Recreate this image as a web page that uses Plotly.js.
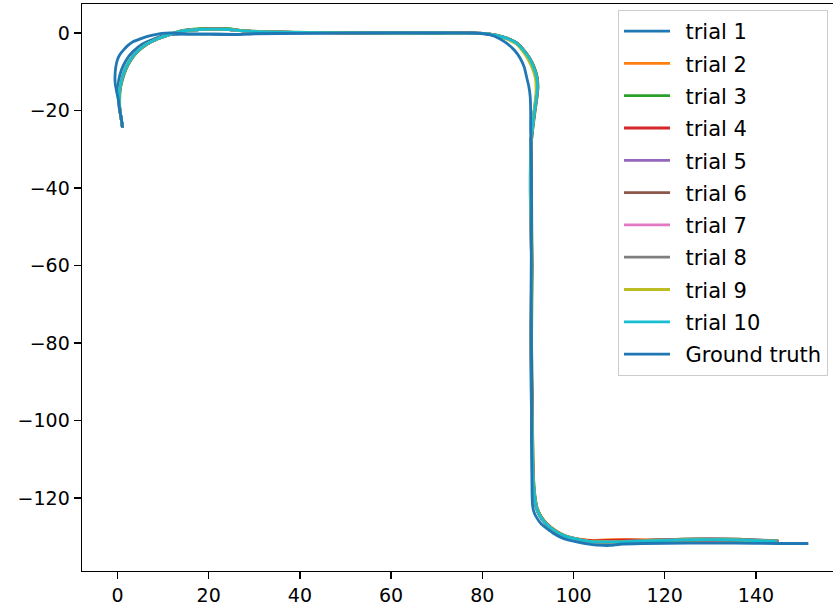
<!DOCTYPE html>
<html>
<head>
<meta charset="utf-8">
<script src="https://cdn.plot.ly/plotly-3.0.1.min.js"></script>
<style>html,body{margin:0;padding:0;background:#fff;}#chart{width:833px;height:607px;}</style>
</head>
<body>
<div id="chart"></div>
<script>
// Legend labels
const seriesNames = ["trial 1","trial 2","trial 3","trial 4","trial 5","trial 6","trial 7","trial 8","trial 9","trial 10","Ground truth"];
const seriesColors = ["#1f77b4","#ff7f0e","#2ca02c","#d62728","#9467bd","#8c564b","#e377c2","#7f7f7f","#bcbd22","#17becf","#1f77b4"];

// Trajectory values
const trial1X = [1.1,0.8,0.4,0.2,0.1,0.3,0.9,1.9,3.4,5.4, 7.8,10.4,14.4,18,21,26.1,28,32,45,60, 72,77,80.2,83.1,85.5,87.6,89.1,90.4,91.3,91.9, 92.0,91.8,91.2,90.7,90.5,90.8,90.6,90.8,91.0,91.3, 91.8,92.7,93.9,96.1,98,99.9,102,104,107,112, 118,124,130,136,141,144.2];
const trial1Y = [-24.4,-22,-19.5,-17,-14.5,-12,-9.4,-7.0,-4.8,-2.9, -1.6,-0.6,-0.3,-0.3,-0.3,-0.35,-0.2,-0.1,0,0, 0,-0.05,-0.1,-0.6,-1.4,-2.6,-4.4,-6.5,-8.7,-11.3, -13.9,-16.5,-21.6,-27.6,-40,-60,-80,-100,-114,-119, -122.6,-124.9,-126.7,-128.8,-129.9,-130.5,-131,-131.3,-131.4,-131.3, -131.1,-130.9,-130.8,-130.9,-131.1,-131.2];

const trial2X = [1.1,0.8,0.5,0.4,0.6,1.0,1.7,2.7,4.2,6.3, 8.7,11.3,14,18,21,24.5,27,32,45,60, 72,77,80.3,83.1,85.5,87.6,89.1,90.4,91.3,92.0, 92.2,92.0,91.4,90.8,90.7,90.9,90.8,91.0,91.2,91.5, 92.0,92.9,94.1,96.4,98.3,100.1,102.1,104.1,107,112, 118,124,130,136,141,144.8];
const trial2Y = [-24.4,-22,-19.5,-17,-14.5,-12,-9.6,-7.3,-5,-3, -1.6,-0.5,0.5,1.0,1.1,1.0,0.7,0.3,0.1,0, 0,-0.05,-0.1,-0.6,-1.4,-2.6,-4.4,-6.5,-8.7,-11.3, -13.9,-16.5,-21.6,-27.6,-40,-60,-80,-100,-114,-119, -122.4,-124.7,-126.5,-128.6,-129.7,-130.3,-130.7,-130.9,-130.8,-130.7, -130.8,-130.8,-130.7,-130.8,-131.0,-131.1];

const trial3X = [1.1,0.8,0.5,0.5,0.6,1.1,1.8,2.8,4.3,6.4, 8.8,11.4,14,18,21,24.5,27,32,45,60, 72,77,80.2,83,85.4,87.5,89,90.3,91.3,92.0, 92.2,92.0,91.4,90.8,90.8,90.9,90.8,91.0,91.2,91.5, 92.0,92.9,94.1,96.4,98.3,100.1,102.1,104.1,107,112, 118,124,130,136,141,144.4];
const trial3Y = [-24.4,-22,-19.5,-17,-14.5,-12,-9.6,-7.3,-5,-3, -1.5,-0.4,0.6,1.1,1.2,1.1,0.7,0.4,0.1,0, 0,-0.05,-0.1,-0.5,-1.3,-2.5,-4.3,-6.4,-8.6,-11.2, -13.8,-16.5,-21.6,-27.6,-40,-60,-80,-100,-114,-119, -122.5,-124.8,-126.6,-128.7,-129.8,-130.4,-130.9,-131.2,-131.3,-131.2, -131.0,-130.8,-130.7,-130.8,-131.0,-131.1];

const trial4X = [1.1,0.8,0.5,0.4,0.5,0.9,1.6,2.6,4.1,6.2, 8.6,11.2,14,18,21,24.5,27,32,45,60, 72,77,80.2,83,85.4,87.5,89,90.3,91.2,91.9, 92.1,91.9,91.3,90.7,90.6,90.8,90.7,90.9,91.1,91.4, 91.9,92.8,94,96.3,98.2,100,102,104,107,112, 118,124,130,136,141,145.0];
const trial4Y = [-24.4,-22,-19.5,-17,-14.5,-12,-9.6,-7.3,-5,-3, -1.6,-0.5,0.5,0.9,1.0,0.9,0.6,0.3,0.1,0, 0,-0.05,-0.1,-0.6,-1.4,-2.6,-4.4,-6.5,-8.7,-11.3, -13.9,-16.5,-21.6,-27.6,-40,-60,-80,-100,-114,-119, -122.5,-124.8,-126.6,-128.7,-129.8,-130.4,-130.8,-131.0,-130.9,-130.8, -130.9,-130.9,-130.8,-130.9,-131.0,-131.1];

const trial5X = [1.1,0.8,0.5,0.4,0.5,1.0,1.7,2.7,4.2,6.3, 8.7,11.3,14,18,21,24.5,27,32,45,60, 72,77,80.1,82.9,85.3,87.4,88.9,90.2,91.1,91.8, 92.0,91.8,91.2,90.7,90.7,90.8,90.8,90.9,91.1,91.4, 91.9,92.8,94,96.3,98.2,100,102,104,107,112, 118,124,130,136,141,144.7];
const trial5Y = [-24.4,-22,-19.5,-17,-14.5,-12,-9.6,-7.3,-5,-3, -1.6,-0.5,0.5,0.9,1.0,0.9,0.6,0.3,0.1,0, 0,-0.05,-0.1,-0.6,-1.4,-2.6,-4.4,-6.5,-8.7,-11.3, -13.9,-16.5,-21.6,-27.6,-40,-60,-80,-100,-114,-119, -122.5,-124.8,-126.6,-128.7,-129.8,-130.4,-130.9,-131.2,-131.3,-131.1, -130.9,-130.7,-130.6,-130.7,-130.9,-131.1];

const trial6X = [1.1,0.8,0.5,0.4,0.5,0.9,1.6,2.6,4.1,6.2, 8.6,11.2,14,18,21,24.5,27,32,45,60, 72,77,80.2,83,85.4,87.5,89,90.3,91.2,91.9, 92.1,91.9,91.3,90.8,90.6,90.9,90.7,91.0,91.1,91.4, 91.9,92.8,94,96.3,98.2,100,102,104,107,112, 118,124,130,136,141,144.5];
const trial6Y = [-24.4,-22,-19.5,-17,-14.5,-12,-9.6,-7.3,-5,-3, -1.6,-0.5,0.5,0.9,1.0,0.9,0.6,0.3,0.1,0, 0,-0.05,-0.1,-0.6,-1.4,-2.6,-4.4,-6.5,-8.7,-11.3, -13.9,-16.5,-21.6,-27.6,-40,-60,-80,-100,-114,-119, -122.5,-124.8,-126.6,-128.7,-129.8,-130.4,-130.9,-131.2,-131.3,-131.1, -130.8,-130.6,-130.5,-130.6,-130.9,-131.1];

const trial7X = [1.1,0.8,0.5,0.4,0.5,0.9,1.6,2.6,4.1,6.2, 8.6,11.2,14,18,21,24.5,27,32,45,60, 72,77,80.2,83,85.4,87.5,89,90.3,91.2,91.9, 92.1,91.9,91.3,90.7,90.6,90.8,90.7,90.9,91.1,91.4, 91.9,92.8,94,96.3,98.2,100,102,104,107,112, 118,124,130,136,141,144.3];
const trial7Y = [-24.4,-22,-19.5,-17,-14.5,-12,-9.6,-7.3,-5,-3, -1.6,-0.5,0.5,0.9,1.0,0.9,0.6,0.3,0.1,0, 0,-0.05,-0.1,-0.6,-1.4,-2.6,-4.4,-6.5,-8.7,-11.3, -13.9,-16.5,-21.6,-27.6,-40,-60,-80,-100,-114,-119, -122.5,-124.8,-126.6,-128.7,-129.8,-130.4,-130.9,-131.2,-131.3,-131.2, -130.9,-130.7,-130.6,-130.7,-131.0,-131.1];

const trial8X = [1.1,0.8,0.5,0.4,0.5,0.9,1.6,2.6,4.1,6.2, 8.6,11.2,14,18,21,24.5,27,32,45,60, 72,77,80.2,83,85.4,87.5,89,90.3,91.2,91.9, 92.1,91.9,91.3,90.7,90.6,90.8,90.7,90.9,91.1,91.4, 91.9,92.8,94,96.3,98.2,100,102,104,107,112, 118,124,130,136,141,144.9];
const trial8Y = [-24.4,-22,-19.5,-17,-14.5,-12,-9.6,-7.3,-5,-3, -1.6,-0.5,0.5,0.9,1.0,0.9,0.6,0.3,0.1,0, 0,-0.05,-0.1,-0.6,-1.4,-2.6,-4.4,-6.5,-8.7,-11.3, -13.9,-16.5,-21.6,-27.6,-40,-60,-80,-100,-114,-119, -122.5,-124.8,-126.6,-128.7,-129.8,-130.4,-130.9,-131.2,-131.3,-131.1, -130.8,-130.6,-130.5,-130.6,-130.8,-131.0];

const trial9X = [1.1,0.8,0.5,0.4,0.5,0.9,1.6,2.6,4.1,6.2, 8.6,11.2,14,18,21,24.5,27,32,45,60, 72,77,80.1,82.8,85.2,87.3,88.8,90.0,90.9,91.6, 91.8,91.7,91.2,90.7,90.6,90.8,90.7,90.9,91.1,91.4, 91.9,92.8,94,96.3,98.2,100,102,104,107,112, 118,124,130,136,141,144.6];
const trial9Y = [-24.4,-22,-19.5,-17,-14.5,-12,-9.6,-7.3,-5,-3, -1.6,-0.5,0.5,0.9,1.0,0.9,0.6,0.3,0.1,0, 0,-0.05,-0.1,-0.6,-1.5,-2.7,-4.6,-6.7,-8.9,-11.5, -14.1,-16.7,-21.6,-27.6,-40,-60,-80,-100,-114,-119, -122.5,-124.8,-126.6,-128.7,-129.8,-130.4,-130.9,-131.2,-131.3,-131.2, -131.0,-130.8,-130.7,-130.8,-131.0,-131.1];

const trial10X = [1.1,0.8,0.5,0.4,0.5,0.9,1.6,2.6,4.1,6.2, 8.6,11.2,14,18,21,24.5,27,32,45,60, 72,77,80.2,83,85.4,87.5,89,90.3,91.2,91.9, 92.1,91.9,91.3,90.7,90.6,90.8,90.7,90.9,91.1,91.4, 91.9,92.8,94,96.3,98.2,100,102,104,107,112, 118,124,130,136,141,144.6];
const trial10Y = [-24.4,-22,-19.5,-17,-14.5,-12,-9.6,-7.3,-5,-3, -1.6,-0.5,0.5,0.9,1.0,0.9,0.6,0.3,0.1,0, 0,-0.05,-0.1,-0.6,-1.4,-2.6,-4.4,-6.5,-8.7,-11.3, -13.9,-16.5,-21.6,-27.6,-40,-60,-80,-100,-114,-119, -122.5,-124.8,-126.6,-128.7,-129.8,-130.4,-130.9,-131.2,-131.3,-131.2, -131.0,-130.8,-130.7,-130.8,-131.0,-131.1];

const truthX = [1.1,0.9,0.5,0.2,-0.2,-0.5,-0.55,-0.4,-0.04,0.5, 1.3,2.3,3.5,5,6.4,8,9.7,12,14.4,20, 26.1,30,40,55,70,78,81.7,83.7,85.4,87, 88.3,89.2,89.7,90.2,90.5,90.6,90.6,90.7,90.8,90.7, 90.8,90.8, 90.9,91.0,91.2,91.7,92.3,93.1,94.1,95.5,97,98.8, 100.7,103,105.1,108,110.2,115,125,135,145,151.5];
const truthY = [-24.4,-22.5,-20,-17.3,-15,-13,-11.3,-9,-7,-5.6, -4.4,-3.2,-2.2,-1.5,-0.95,-0.5,-0.1,0,-0.2,-0.3, -0.4,-0.2,-0.1,0,0,0,-0.5,-1.4,-2.7,-4.4, -6.5,-8.8,-11.3,-13.8,-16.4,-19.9,-25,-30,-45,-65, -85,-105, -118,-121.5,-123.1,-124.6,-125.7,-126.9,-127.8,-129,-130,-130.8, -131.3,-131.8,-132.1,-132.2,-131.9,-131.7,-131.6,-131.6,-131.7,-131.7];

const xTicks = [0,20,40,60,80,100,120,140];
const yTicks = [0,-20,-40,-60,-80,-100,-120];

const seriesX = [trial1X,trial2X,trial3X,trial4X,trial5X,trial6X,trial7X,trial8X,trial9X,trial10X,truthX];
const seriesY = [trial1Y,trial2Y,trial3Y,trial4Y,trial5Y,trial6Y,trial7Y,trial8Y,trial9Y,trial10Y,truthY];

const traces = seriesNames.map((name, i) => ({
  type: 'scatter',
  mode: 'lines',
  name: '\u2002' + name,
  x: seriesX[i],
  y: seriesY[i],
  legendgroup: 'g' + i,
  line: {color: seriesColors[i], width: 2.8, shape: 'spline', smoothing: 0.6},
  hoverinfo: 'skip'
}));

const axisFont = {family: 'DejaVu Sans', size: 19, color: '#000'};

const layout = {
  width: 833,
  height: 607,
  margin: {l: 82, r: 0, t: 4, b: 36, pad: 0},
  paper_bgcolor: '#fff',
  plot_bgcolor: '#fff',
  showlegend: true,
  font: axisFont,
  xaxis: {
    range: [-7.78, 156.9],
    tickmode: 'array',
    tickvals: xTicks,
    ticktext: xTicks.map(String),
    showgrid: false,
    zeroline: false,
    showline: true,
    mirror: true,
    linecolor: '#000',
    linewidth: 1.4,
    ticks: 'outside',
    ticklen: 7,
    tickwidth: 1.4,
    tickcolor: '#000',
    tickfont: axisFont
  },
  yaxis: {
    range: [-138.8, 7.48],
    tickmode: 'array',
    tickvals: yTicks,
    ticktext: yTicks.map(v => v < 0 ? '\u2212' + Math.abs(v) : String(v)),
    showgrid: false,
    zeroline: false,
    showline: true,
    linecolor: '#000',
    linewidth: 1.4,
    ticks: 'outside',
    ticklen: 7,
    tickwidth: 1.4,
    tickcolor: '#000',
    tickfont: axisFont
  },
  legend: {
    x: 0.7137,
    y: 0.9895,
    xanchor: 'left',
    yanchor: 'top',
    bgcolor: 'rgba(255,255,255,0.8)',
    bordercolor: '#cccccc',
    borderwidth: 1,
    font: {family: 'DejaVu Sans', size: 21, color: '#000'},
    tracegroupgap: 2,
    itemwidth: 46
  }
};

Plotly.newPlot('chart', traces, layout, {displayModeBar: false, staticPlot: true});
</script>
</body>
</html>
